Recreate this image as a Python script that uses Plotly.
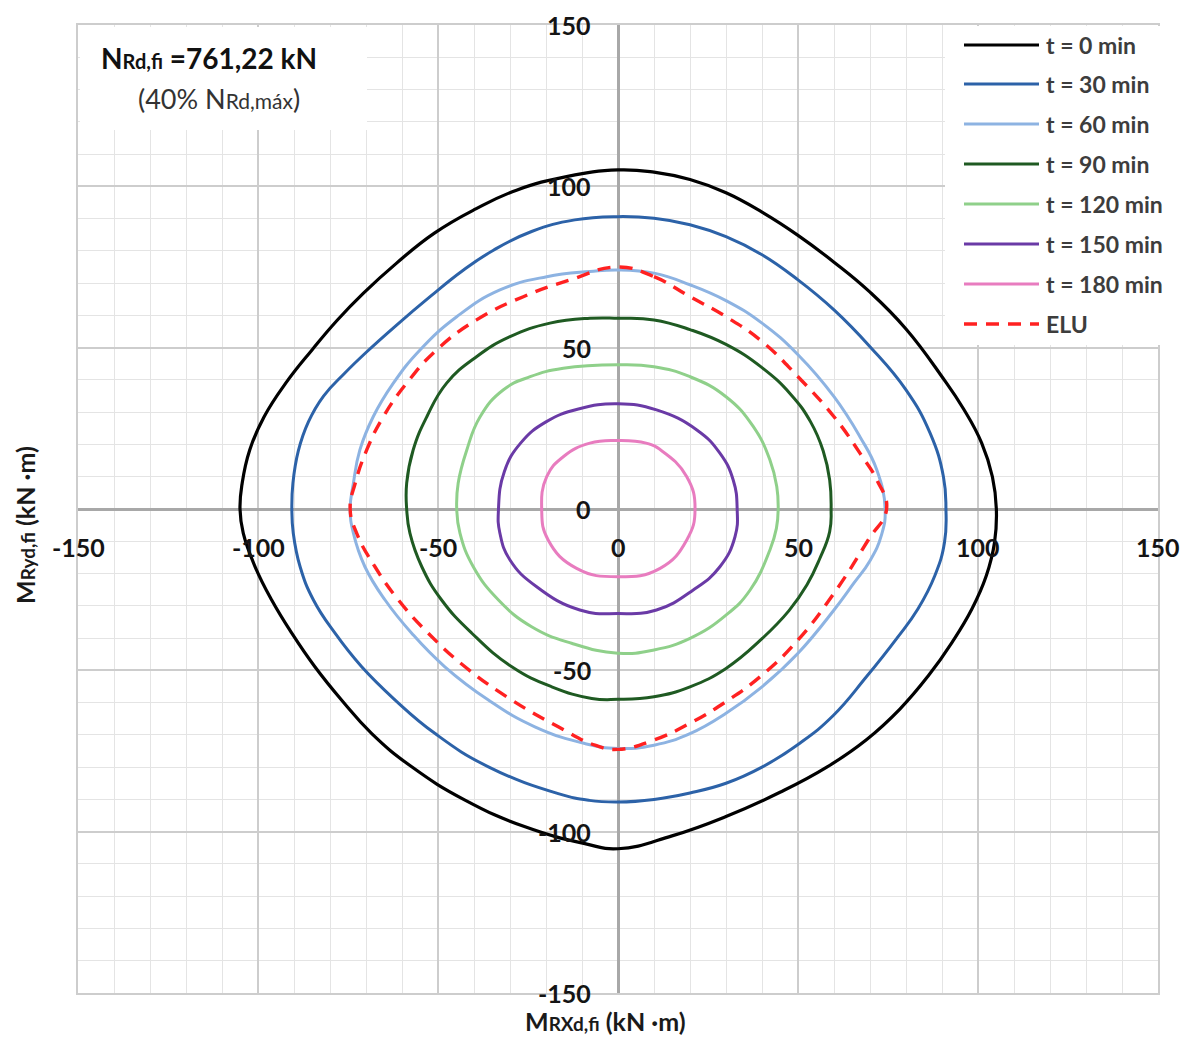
import plotly.graph_objects as go

# ---- interaction diagram data (kN·m), each curve listed clockwise from the top ----
series_names = ["t = 0 min", "t = 30 min", "t = 60 min", "t = 90 min",
                "t = 120 min", "t = 150 min", "t = 180 min", "ELU"]

t0_x = [0, 10, 20, 30, 40, 50, 60, 70, 80, 90, 96, 101, 104, 105.1,
        104.6, 102.3, 98.3, 92.8, 86.2, 78.3, 69, 58, 45, 30, 15, 0,
        -9.2, -25.8, -42.5, -57.3, -68.4, -76.8, -84.2, -90.6, -96.2, -100.8, -104.1, -105,
        -104.4, -102.3, -98.3, -92.3, -85, -78, -70.7, -61.5, -51, -39.5, -28, -14.3]
t0_y = [105.1, 104.4, 102.1, 98, 92, 84.8, 76.5, 67.2, 55.8, 41, 31, 20.5, 10, 0,
        -10.3, -20.7, -31, -41.3, -51.7, -62, -71.5, -80, -87.8, -95.3, -101.3, -105.3,
        -103.7, -98.5, -90.2, -79.9, -69.6, -59.2, -48.9, -38.5, -28.2, -17.9, -7.5, 0,
        8, 18.3, 28.6, 39, 49.3, 58.5, 66.9, 76.2, 85.5, 93, 98.9, 103]

t30_x = [0, 10, 20, 30, 40, 50, 60, 70, 80, 86.7, 90.4, 91.1,
         90.7, 88, 83.3, 77.5, 69, 59.8, 50.6, 40, 30, 20, 10, 0,
         -8, -16.6, -36, -50.8, -61.9, -71.2, -78.6, -84.6, -88.3, -90.2, -90.6,
         -90.3, -88.8, -86, -81.8, -76, -70, -61.5, -52.2, -43, -34.6, -24, -12]
t30_y = [90.6, 90.1, 88.1, 84.4, 78.8, 71, 61.7, 50.3, 36.9, 23.5, 10, 0,
         -10.3, -20.7, -31, -40, -52, -64, -72.5, -80, -85, -88, -90, -90.8,
         -90.3, -88.2, -79.9, -69.6, -59.2, -48.9, -38.5, -28.2, -17.9, -7.5, 0,
         8, 18, 27, 35, 42, 48.5, 57, 65.8, 74, 80.2, 86, 89.6]

t60_x = [0, 10, 20, 30, 40, 50, 60, 67.2, 71.9, 74.2,
         73.2, 70, 65.5, 60, 50, 40, 30, 20, 10, 0,
         -9.2, -23.1, -36, -48.1, -57.3, -64.7, -70.3, -73.5, -74.4,
         -73.5, -71.7, -68, -62.4, -55, -44.8, -32.8, -19.8, -7.8]
t60_y = [74.1, 73.1, 69.5, 64.6, 57.6, 47.8, 34.8, 22.4, 12.1, 0,
         -8, -16, -23, -31.3, -44.7, -55.1, -63.3, -69.6, -73.2, -74.2,
         -72.7, -67.5, -59.2, -48.9, -38.5, -28.2, -17.9, -7.5, 0,
         8, 18.3, 28.6, 39, 49.3, 59.6, 67.9, 72, 73.6]

t90_x = [0, 10, 20, 30, 40, 48, 53.5, 57, 58.8, 59.2,
         58.8, 56, 52.5, 47.5, 40, 30, 20, 10, 0,
         -7.3, -18.4, -29.5, -40.6, -49, -54.5, -57.8, -58.7,
         -58.7, -56.9, -53.1, -47.6, -39.3, -30, -18.9, -7.8]
t90_y = [59.1, 58.6, 55.6, 51, 43.8, 35.5, 27, 18, 9, 0,
         -7, -15.5, -23.5, -31.5, -40.2, -49.4, -55.1, -58.2, -59,
         -58.7, -55.1, -48.9, -38.5, -28.2, -17.9, -7.5, 0,
         8, 18.3, 28.6, 39, 47.2, 53.4, 57.6, 59.1]

t120_x = [0, 10, 20, 30, 37.6, 42.2, 44.1, 44.5,
          44, 42.2, 36.7, 30, 20, 10, 0,
          -12.9, -24, -33.2, -40.2, -43.9, -44.8,
          -44.4, -42, -38.3, -31.9, -24.4, -15.2]
t120_y = [44.7, 44.1, 41, 34.8, 25.5, 15.2, 7, 0,
          -6, -12.7, -25.1, -32.9, -40.1, -43.7, -44.7,
          -41.6, -36.5, -28.2, -17.9, -7.5, 0,
          8, 18.3, 28.6, 36.9, 41, 43.6]

t150_x = [0, 10.7, 21.9, 28.3, 32, 33.1, 32.5, 28.3, 20.9, 10.7, 0,
          -10.6, -22.6, -30, -32.8, -33.2, -31.6, -27, -20, -11]
t150_y = [32.6, 30.7, 24.5, 17.3, 9, 0, -8.6, -17.9, -25.1, -31.3, -32.4,
          -31.3, -24.1, -15.8, -7.5, 0, 11.5, 20.5, 27, 31]

t180_x = [0, 7.8, 12.2, 19.1, 21.4, 19.1, 11.7, 0, -11.5, -19.4, -21.2, -19.8, -15.2, -7.8]
t180_y = [21.2, 20.4, 18, 10, 0, -9.6, -18.4, -21, -18.4, -9.6, 0, 10, 16.2, 20.4]

elu_x = [0, 10, 20, 30, 40, 50, 60, 67.2, 71.9, 74.6,
         69.5, 60, 50, 40, 30, 20, 10, 0,
         -6.4, -16.6, -29.5, -42.5, -52.7, -61, -67.5, -72.6, -74.4,
         -73, -69.8, -65.2, -58.7, -50.4, -39.3, -26.3, -13.3]
elu_y = [75, 72, 65.8, 59.6, 51.9, 41, 28.6, 17.3, 9, 0,
         -9.6, -26.1, -40.6, -51.5, -59.7, -66.4, -71.6, -74.5,
         -73.2, -67.5, -59.2, -48.9, -38.5, -28.2, -17.9, -7.5, 0,
         8, 18.3, 28.6, 39, 49.3, 58.6, 65.8, 71]

# axis tick values and their labels
tick_values = [-150, -100, -50, 0, 50, 100, 150]
tick_labels = ["-150", "-100", "-50", "0", "50", "100", "150"]

curves = [(t0_x, t0_y), (t30_x, t30_y), (t60_x, t60_y), (t90_x, t90_y),
          (t120_x, t120_y), (t150_x, t150_y), (t180_x, t180_y), (elu_x, elu_y)]
colors = ["#000000", "#2c62a8", "#8db3e2", "#1f5a22", "#8fd08a", "#6a3aa6", "#e87cbf", "#ff2121"]
widths = [3.2, 3, 3, 3, 3, 3, 3, 3.4]
dashes = ["solid"] * 7 + ["13px,9px"]

FONT = "Lato"
W, H = 1183, 1039
L, R, T, B = 78, 25, 25, 46


def px(x):
    return (x - L) / (W - L - R)


def py(y):
    return (H - B - y) / (H - T - B)


fig = go.Figure()
for (cx, cy), name, col, w, d in zip(curves, series_names, colors, widths, dashes):
    fig.add_trace(go.Scatter(
        x=list(cx) + [cx[0]], y=list(cy) + [cy[0]], mode="lines", name=name,
        line=dict(color=col, width=w, dash=d, shape="spline", smoothing=1.3, simplify=False),
        showlegend=False, hoverinfo="skip"))

axis_common = dict(
    range=[-150, 150], dtick=50, tick0=0, showticklabels=False, ticks="",
    showgrid=True, gridcolor="#cdcdcd", gridwidth=1.6,
    minor=dict(dtick=10, tick0=0, showgrid=True, gridcolor="#e4e4e4", gridwidth=1.2),
    zeroline=True, zerolinecolor="#a8a8a8", zerolinewidth=2.6,
    showline=True, mirror=True, linecolor="#cdcdcd", linewidth=1.6,
)
fig.update_xaxes(**axis_common)
fig.update_yaxes(**axis_common)

annotations = []
tick_font = dict(family=FONT, size=25, color="#141414")
for v, lab in zip(tick_values, tick_labels):
    annotations.append(dict(x=v, y=0, xref="x", yref="y", text="<b>%s</b>" % lab,
                            showarrow=False, xanchor="center", yanchor="middle",
                            yshift=-38, font=tick_font))
    annotations.append(dict(x=0, y=v, xref="x", yref="y", text="<b>%s</b>" % lab,
                            showarrow=False, xanchor="right", yanchor="middle",
                            xshift=-25, font=tick_font))

# axis titles
title_font = dict(family=FONT, size=25, color="#1a1a1a")
annotations.append(dict(
    x=px(605), y=py(1021), xref="paper", yref="paper", showarrow=False,
    text='<b>M<span style="font-size:19px">RXd,fi</span> (kN ·m)</b>',
    xanchor="center", yanchor="middle", font=title_font))
annotations.append(dict(
    x=px(25), y=py(525), xref="paper", yref="paper", showarrow=False, textangle=-90,
    text='<b>M<span style="font-size:19px">Ryd,fi</span> (kN ·m)</b>',
    xanchor="center", yanchor="middle", font=title_font))

# axial load note
annotations.append(dict(
    x=px(99), y=py(58), xref="paper", yref="paper", showarrow=False,
    text='<b>N<span style="font-size:20px">Rd,fi</span> =761,22 kN</b>',
    xanchor="left", yanchor="middle", font=dict(family=FONT, size=28, color="#111111")))
annotations.append(dict(
    x=px(136), y=py(98), xref="paper", yref="paper", showarrow=False,
    text='(40% N<span style="font-size:21px">Rd,máx</span>)',
    xanchor="left", yanchor="middle", font=dict(family=FONT, size=27, color="#333333")))

shapes = [
    dict(type="rect", xref="paper", yref="paper", x0=px(80), x1=px(367), y0=py(130), y1=py(27),
         fillcolor="white", line=dict(width=0), layer="above"),
    dict(type="rect", xref="paper", yref="paper", x0=px(945), x1=px(1190), y0=py(345), y1=py(26),
         fillcolor="white", line=dict(width=0), layer="above"),
]

# legend entries
row_y = [45, 84, 124, 164, 204, 244, 284, 324]
for name, col, w, d, ry in zip(series_names, colors, widths, dashes, row_y):
    shapes.append(dict(type="line", xref="paper", yref="paper",
                       x0=px(964), x1=px(1039), y0=py(ry), y1=py(ry),
                       line=dict(color=col, width=w, dash=d), layer="above"))
    annotations.append(dict(x=px(1044), y=py(ry), xref="paper", yref="paper",
                            text="<b>%s</b>" % name, showarrow=False,
                            xanchor="left", yanchor="middle",
                            font=dict(family=FONT, size=23, color="#3d3d3d")))

fig.update_layout(
    width=W, height=H, autosize=False,
    margin=dict(l=L, r=R, t=T, b=B, pad=0),
    paper_bgcolor="white", plot_bgcolor="white",
    showlegend=False, annotations=annotations, shapes=shapes,
)

fig.write_html("out.html")
